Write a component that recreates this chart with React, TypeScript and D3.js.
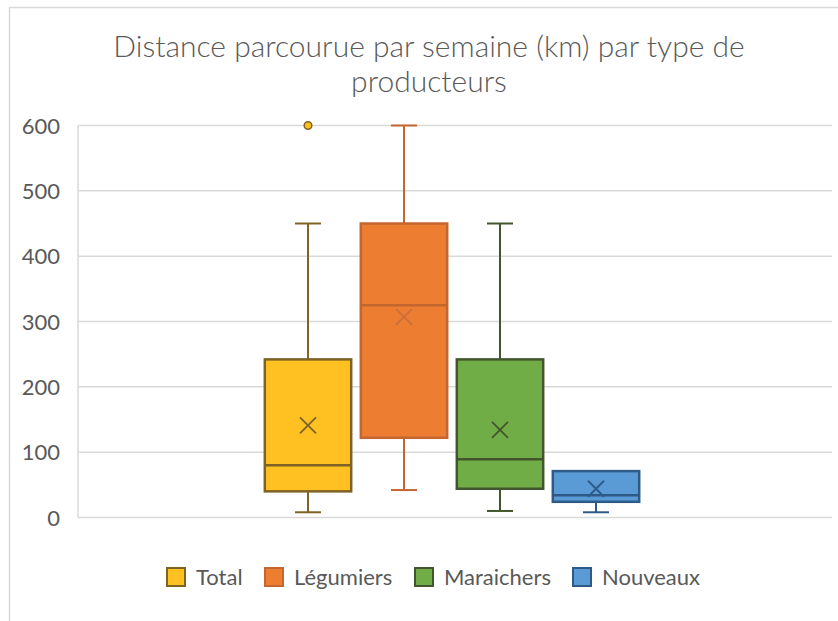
import React from "react";
import * as d3 from "d3";

const series = ["Total", "Légumiers", "Maraichers", "Nouveaux"];
const whiskerLow = [8, 42, 10, 8];
const q1 = [40, 122, 44, 24];
const median = [80, 325, 89, 34];
const q3 = [242, 450, 242, 71];
const whiskerHigh = [450, 600, 450, 71];
const means = [141, 307, 134, 44];
const outliers: number[][] = [[600], [], [], []];
const yTicks = [0, 100, 200, 300, 400, 500, 600];
const titleLines = ["Distance parcourue par semaine (km) par type de", "producteurs"];

const fills = ["#FFC021", "#ED7D31", "#70AD47", "#5B9BD5"];
const strokes = ["#7F6325", "#C4662F", "#43552C", "#2E5A88"];
const meanColors = ["#7F6325", "#C96F3B", "#43552C", "#2E5A88"];

const FONT = "Lato, 'Open Sans', sans-serif";
const GRAY = "#595959";

export default function App() {
  const W = 838, H = 621;
  const plotLeft = 78, plotRight = 832;
  const y = d3.scaleLinear().domain([0, 600]).range([517.5, 125.5]);
  const x = d3.scaleBand<string>().domain(series).range([260, 644]).paddingInner(0.1).paddingOuter(0.05);
  const bw = x.bandwidth();
  const cap = 13;
  const m = 8;

  const legendX = [167, 265, 415, 573];

  return (
    <svg width={W} height={H} style={{ position: "absolute", left: 0, top: 0, fontFamily: FONT }}>
      <rect x={0} y={0} width={W} height={H} fill="#fff" />
      <rect x={9.5} y={7.5} width={1000} height={800} fill="#fff" stroke="#D9D9D9" strokeWidth={1.5} />
      {titleLines.map((t, i) => (
        <text key={i} x={429} y={57 + i * 34.5} textAnchor="middle" fontSize={30} fontWeight={300} fill={GRAY}>{t}</text>
      ))}
      {yTicks.map((t) => (
        <g key={t}>
          <line x1={plotLeft} x2={plotRight} y1={y(t)} y2={y(t)} stroke="#D9D9D9" strokeWidth={1.5} />
          <text x={60} y={y(t) + 8} textAnchor="end" fontSize={22} fill={GRAY}>{t}</text>
        </g>
      ))}
      <line x1={plotLeft} x2={plotLeft} y1={y(600)} y2={y(0)} stroke="#D9D9D9" strokeWidth={1.5} />
      {series.map((s, i) => {
        const cx = (x(s) as number) + bw / 2;
        const x0 = x(s) as number;
        return (
          <g key={s}>
            <line x1={cx} x2={cx} y1={y(q3[i])} y2={y(whiskerHigh[i])} stroke={strokes[i]} strokeWidth={2} />
            <line x1={cx} x2={cx} y1={y(q1[i])} y2={y(whiskerLow[i])} stroke={strokes[i]} strokeWidth={2} />
            {whiskerHigh[i] > q3[i] && (
              <line x1={cx - cap} x2={cx + cap} y1={y(whiskerHigh[i])} y2={y(whiskerHigh[i])} stroke={strokes[i]} strokeWidth={2} />
            )}
            <line x1={cx - cap} x2={cx + cap} y1={y(whiskerLow[i])} y2={y(whiskerLow[i])} stroke={strokes[i]} strokeWidth={2} />
            <rect x={x0} y={y(q3[i])} width={bw} height={y(q1[i]) - y(q3[i])} fill={fills[i]} stroke={strokes[i]} strokeWidth={2.5} />
            <line x1={x0} x2={x0 + bw} y1={y(median[i])} y2={y(median[i])} stroke={strokes[i]} strokeWidth={2.5} />
            <path
              d={`M${cx - m},${y(means[i]) - m}L${cx + m},${y(means[i]) + m}M${cx + m},${y(means[i]) - m}L${cx - m},${y(means[i]) + m}`}
              stroke={meanColors[i]} strokeWidth={1.8} fill="none"
            />
            {outliers[i].map((o, j) => (
              <circle key={j} cx={cx} cy={y(o)} r={3.8} fill={fills[i]} stroke={strokes[i]} strokeWidth={1.5} />
            ))}
          </g>
        );
      })}
      {series.map((s, i) => (
        <g key={s} transform={`translate(${legendX[i]},568)`}>
          <rect x={0} y={0} width={18} height={18} fill={fills[i]} stroke={strokes[i]} strokeWidth={2} />
          <text x={29} y={17} fontSize={22} fill={GRAY}>{s}</text>
        </g>
      ))}
    </svg>
  );
}
